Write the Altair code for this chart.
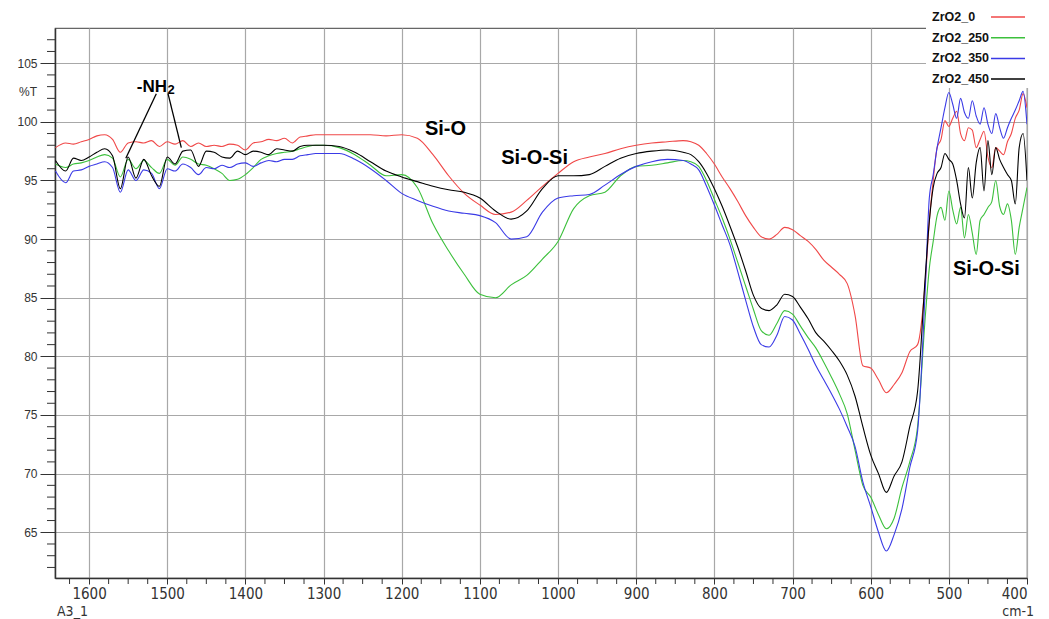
import altair as alt
import pandas as pd

# ---------------- data -----------------------------------------
WAVENUMBER = [
    1643, 1630, 1620, 1610, 1600, 1590, 1580, 1570, 1560, 1550, 1540, 1530, 1520, 1510, 1500, 1490, 1480,
    1470, 1460, 1450, 1440, 1430, 1420, 1410, 1400, 1390, 1380, 1370, 1360, 1350, 1340, 1330, 1320, 1310, 1300,
    1280, 1260, 1240, 1220, 1200, 1180, 1160, 1140, 1120, 1100, 1080, 1060, 1040, 1020, 1000, 980, 960, 940,
    920, 900, 880, 860, 840,
    830, 820, 810, 800, 790, 780, 770, 760, 750, 740, 730, 720, 710, 700, 690, 680, 670, 660, 650, 640, 630,
    620, 610, 600, 590, 580, 570, 560, 550, 540,
    530, 525, 520, 515, 510, 505, 500, 495, 490, 485, 480, 475, 470, 465, 460, 455, 450, 445, 440, 435, 430,
    425, 420, 415, 410, 405, 400,
]

ZRO2_0 = [
    97.8, 98.2, 98.1, 98.3, 98.5, 98.8, 98.9, 98.5, 97.4, 98.2, 98.3, 98.2, 98.4, 97.9, 98.3, 98.1, 98.4,
    97.9, 98.2, 97.9, 98.0, 97.9, 98.1, 98.0, 97.6, 98.2, 98.3, 98.5, 98.4, 98.6, 98.2, 98.7, 98.8, 98.9, 98.9,
    98.9, 98.9, 98.9, 98.8, 98.9, 98.6, 97.2, 95.4, 93.9, 92.9, 92.1, 92.3, 93.3, 94.5, 95.6, 96.6, 97.0, 97.3,
    97.7, 98.0, 98.2, 98.3, 98.4,
    98.3, 98.0, 97.3, 96.4, 95.3, 94.3, 93.2, 92.0, 91.0, 90.2, 90.0, 90.4, 91.0, 90.8, 90.3, 89.8, 89.1, 88.2,
    87.6, 87.0, 86.2, 83.5, 79.2, 79.0, 78.0, 76.9, 77.6, 78.6, 80.4, 81.0,
    86.5, 91.5, 95.0, 97.8, 98.5, 100.1, 99.6, 100.3, 100.9, 99.0, 98.4, 99.5, 99.3, 97.8, 98.5, 99.2, 97.0,
    96.1, 97.8, 97.5, 97.2, 98.3, 99.0, 100.3, 101.0, 102.4, 101.2,
]

ZRO2_250 = [
    96.4, 96.1, 96.4, 96.5, 96.7, 97.0, 97.2, 96.9, 95.3, 96.8, 96.0, 96.7, 96.1, 95.6, 96.8, 96.3, 97.0,
    96.8, 96.4, 96.3, 96.0, 95.6, 95.0, 95.1, 95.5, 96.1, 96.8, 97.1, 97.3, 97.4, 97.5, 97.7, 97.9, 98.0, 98.0,
    97.8, 97.2, 96.3, 95.4, 95.5, 94.4, 91.3, 89.0, 87.0, 85.3, 85.0, 86.1, 86.9, 88.3, 89.8, 92.6, 93.7, 94.0,
    95.4, 96.2, 96.3, 96.5, 96.7,
    96.6, 96.2, 95.0, 93.4, 91.8, 90.0, 88.0, 86.0, 84.0, 82.2, 81.8, 82.8, 83.9, 83.6, 82.6, 81.6, 80.7, 79.5,
    78.2, 76.8, 75.1, 72.0, 69.0, 68.0, 66.5, 65.3, 66.2, 68.8, 71.0, 74.0,
    83.5, 87.5, 89.8, 92.0, 92.7, 91.6, 94.1, 92.5, 91.3, 92.7, 90.1, 92.1, 90.5, 88.7, 91.6, 92.1, 92.7,
    93.2, 95.0, 92.8, 92.1, 93.0, 91.6, 88.7, 91.0, 92.7, 94.4,
]

ZRO2_350 = [
    95.8, 94.8, 95.8, 95.9, 96.2, 96.4, 96.6, 96.1, 94.0, 95.9, 95.0, 95.9, 95.6, 94.3, 96.0, 95.8, 96.4,
    96.1, 95.5, 96.1, 96.0, 96.3, 96.1, 96.4, 96.5, 96.2, 96.5, 96.7, 96.6, 96.8, 96.8, 97.1, 97.2, 97.3, 97.3,
    97.3, 96.8, 96.0, 95.0, 93.9, 93.3, 92.8, 92.4, 92.2, 92.0, 91.4, 90.0, 90.2, 92.3, 93.5, 93.7, 93.8, 94.6,
    95.5, 96.2, 96.6, 96.8, 96.7,
    96.4, 95.9, 94.5, 92.9, 91.2, 89.5, 87.2, 84.8, 82.5, 81.0, 80.8, 81.8, 83.4, 83.1, 81.9, 80.6, 79.2, 78.0,
    76.8, 75.5, 74.0, 72.3, 69.3, 67.2, 65.0, 63.4, 64.8, 67.0, 70.5, 73.6,
    86.0, 93.5, 95.5, 97.8, 99.5, 101.2, 102.5, 101.5, 100.3, 102.0, 100.8, 100.3, 101.8, 100.5, 99.8, 101.2,
    99.8, 99.0, 100.7, 99.5, 98.6, 99.5, 100.3, 101.0, 101.8, 102.6, 99.8,
]

ZRO2_450 = [
    96.7, 95.8, 96.9, 96.7, 97.0, 97.4, 97.7, 97.1, 94.3, 97.0, 95.2, 96.8, 95.4, 94.5, 97.0, 96.4, 97.5,
    97.6, 96.2, 97.5, 97.4, 97.0, 96.9, 97.5, 97.2, 97.5, 97.4, 97.2, 97.7, 97.6, 97.5, 97.9, 98.0, 98.0, 98.0,
    97.9, 97.4, 96.6, 95.8, 95.3, 94.9, 94.5, 94.2, 94.0, 93.5, 92.4, 91.7, 92.4, 94.3, 95.4, 95.4, 95.5, 96.2,
    96.9, 97.3, 97.5, 97.6, 97.4,
    97.2, 96.6, 95.6, 94.3, 92.8, 91.1, 89.3, 87.3, 85.2, 84.1, 83.9, 84.4, 85.3, 85.1, 84.2, 83.2, 82.0, 81.3,
    80.5, 79.6, 78.4, 76.6, 74.0, 71.6, 70.0, 68.4, 69.8, 71.0, 74.0, 77.0,
    87.0, 91.5, 94.4, 95.6, 96.1, 97.3, 96.8, 96.4, 95.0, 93.0, 91.8, 96.1, 93.5, 96.5, 97.8, 94.1, 98.4,
    95.5, 97.8, 96.8, 96.1, 95.5, 95.0, 93.0, 97.8, 99.0, 95.0,
]

SERIES_NAMES = ["ZrO2_0", "ZrO2_250", "ZrO2_350", "ZrO2_450"]
SERIES_COLORS = ["#f04848", "#3cc03c", "#3a3ae6", "#000000"]
SERIES_WIDTHS = [1.1, 1.1, 1.1, 2.7]

X_MAJOR = [1600, 1500, 1400, 1300, 1200, 1100, 1000, 900, 800, 700, 600, 500, 400]
X_MINOR = [1625, 1575, 1550, 1525, 1475, 1450, 1425, 1375, 1350, 1325, 1275, 1250, 1225, 1175, 1150, 1125,
           1075, 1050, 1025, 975, 950, 925, 875, 850, 825, 775, 750, 725, 675, 650, 625, 575, 550, 525,
           475, 450, 425]
Y_MAJOR = [65, 70, 75, 80, 85, 90, 95, 100, 105]
Y_MINOR = [62, 63, 64, 66, 67, 68, 69, 71, 72, 73, 74, 76, 77, 78, 79, 81, 82, 83, 84, 86, 87, 88, 89,
           91, 92, 93, 94, 96, 97, 98, 99, 101, 102, 103, 104, 106, 107]
Y_UNIT_LABEL = "%T"
Y_UNIT_AT = 102.5

# annotations (label, wavenumber, %T)
ANN_LABELS = ["Si-O", "Si-O-Si", "Si-O-Si"]
ANN_WN = [1144, 1030, 452]
ANN_T = [99.35, 96.9, 87.45]

NH_TEXT = ["-NH", "2"]
NH_WN = [1500.3, 1499.7]
NH_T = [103.0, 102.75]

LEAD_WN = [1514, 1499]
LEAD_T = [102.4, 102.4]
LEAD_WN2 = [1553, 1482]
LEAD_T2 = [96.9, 97.8]

for s in (ZRO2_0, ZRO2_250, ZRO2_350, ZRO2_450):
    assert len(s) == len(WAVENUMBER), (len(s), len(WAVENUMBER))

rows = []
for name, vals in zip(SERIES_NAMES, [ZRO2_0, ZRO2_250, ZRO2_350, ZRO2_450]):
    for w, v in zip(WAVENUMBER, vals):
        rows.append({"wn": w, "T": v, "series": name})
df = pd.DataFrame(rows)

W, H = 972, 550
NARROW = "Liberation Sans Narrow, DejaVu Sans Condensed, Arial Narrow, sans-serif"
SANS = "Liberation Sans, Arial, Helvetica, sans-serif"
AXIS_COLOR = "#333333"
GRID_COLOR = "#a8a8a8"

xscale = alt.Scale(domain=[1643.6, 400], nice=False, zero=False)
yscale = alt.Scale(domain=[61.1, 108], nice=False, zero=False)

x_axis = alt.Axis(
    values=X_MAJOR, title=None, format="d", labelOverlap=False, labelFont=NARROW, labelFontSize=15,
    labelColor=AXIS_COLOR, labelPadding=2, tickSize=6, tickColor=AXIS_COLOR, tickWidth=1,
    domainColor=AXIS_COLOR, domainWidth=1.5, grid=True, gridColor=GRID_COLOR, gridWidth=1.2,
)
y_axis = alt.Axis(
    values=Y_MAJOR, title=None, format="d", labelOverlap=False, labelFont=SANS, labelFontSize=12,
    labelColor=AXIS_COLOR, labelPadding=3, tickSize=15, tickColor=AXIS_COLOR, tickWidth=1,
    domainColor=AXIS_COLOR, domainWidth=1.5, grid=True, gridColor=GRID_COLOR, gridWidth=1.2,
)

def X(field):
    return alt.X(field, scale=xscale, title=None)

def Y(field):
    return alt.Y(field, scale=yscale, title=None)

lines = alt.Chart(df).mark_line(clip=True, strokeJoin="round", interpolate="monotone").encode(
    x=alt.X("wn:Q", scale=xscale, axis=x_axis, title=None),
    y=alt.Y("T:Q", scale=yscale, axis=y_axis, title=None),
    color=alt.Color("series:N", scale=alt.Scale(domain=SERIES_NAMES, range=SERIES_COLORS), legend=None),
    strokeWidth=alt.StrokeWidth("series:N", scale=alt.Scale(domain=SERIES_NAMES, range=SERIES_WIDTHS), legend=None),
    order=alt.Order("wn:Q"),
)

# minor ticks
xminor = alt.Chart(pd.DataFrame({"v": X_MINOR})).mark_rule(color=AXIS_COLOR, strokeWidth=1).encode(
    x=X("v:Q"), y=alt.value(H), y2=alt.value(H + 6))
yminor = alt.Chart(pd.DataFrame({"v": Y_MINOR})).mark_rule(color=AXIS_COLOR, strokeWidth=1).encode(
    y=Y("v:Q"), x=alt.value(0), x2=alt.value(-8))
yunit = alt.Chart(pd.DataFrame({"v": [Y_UNIT_AT], "label": [Y_UNIT_LABEL]})).mark_text(
    font=SANS, fontSize=12, color=AXIS_COLOR, align="right", baseline="middle").encode(
    y=Y("v:Q"), x=alt.value(-18), text="label:N")

ann_df = pd.DataFrame({"wn": ANN_WN, "T": ANN_T, "label": ANN_LABELS})
ann = alt.Chart(ann_df).mark_text(font=SANS, fontWeight="bold", fontSize=20, color="#000").encode(
    x=X("wn:Q"), y=Y("T:Q"), text="label:N")
nh1 = alt.Chart(pd.DataFrame({"wn": [NH_WN[0]], "T": [NH_T[0]], "label": [NH_TEXT[0]]})).mark_text(
    font=SANS, fontWeight="bold", fontSize=17, color="#000", align="right").encode(
    x=X("wn:Q"), y=Y("T:Q"), text="label:N")
nh2 = alt.Chart(pd.DataFrame({"wn": [NH_WN[1]], "T": [NH_T[1]], "label": [NH_TEXT[1]]})).mark_text(
    font=SANS, fontWeight="bold", fontSize=13, color="#000", align="left").encode(
    x=X("wn:Q"), y=Y("T:Q"), text="label:N")
leads = alt.Chart(pd.DataFrame({"wn": LEAD_WN, "T": LEAD_T, "wn2": LEAD_WN2, "T2": LEAD_T2})).mark_rule(
    color="#000", strokeWidth=1.3).encode(x=X("wn:Q"), y=Y("T:Q"), x2="wn2:Q", y2="T2:Q")

# corner texts
a31 = alt.Chart(pd.DataFrame({"label": ["A3_1"]})).mark_text(
    font=NARROW, fontSize=14, color=AXIS_COLOR, align="left", baseline="alphabetic").encode(
    x=alt.value(2), y=alt.value(H + 38), text="label:N")
cm1 = alt.Chart(pd.DataFrame({"label": ["cm-1"]})).mark_text(
    font=NARROW, fontSize=14, color=AXIS_COLOR, align="right", baseline="alphabetic").encode(
    x=alt.value(W + 7), y=alt.value(H + 38), text="label:N")

# legend (drawn as a white box with label + line per series, in the top-right corner)
LEG_LEFT, LEG_TOP, LEG_ROW = 877, -11, 20.7
LEG_LINE_X1, LEG_LINE_X2 = 936, 970
legend_layers = [
    alt.Chart(pd.DataFrame({"k": [0]})).mark_rect(color="white").encode(
        x=alt.value(LEG_LEFT - 6), x2=alt.value(W + 22), y=alt.value(-28), y2=alt.value(60))
]
for i, (name, colr) in enumerate(zip(SERIES_NAMES, SERIES_COLORS)):
    yy = LEG_TOP + i * LEG_ROW
    legend_layers.append(
        alt.Chart(pd.DataFrame({"label": [name]})).mark_text(
            font=SANS, fontWeight="bold", fontSize=12.5, color="#111", align="left", baseline="middle").encode(
            x=alt.value(LEG_LEFT), y=alt.value(yy), text="label:N"))
    legend_layers.append(
        alt.Chart(pd.DataFrame({"label": [name]})).mark_rule(color=colr, strokeWidth=1.5).encode(
            x=alt.value(LEG_LINE_X1), x2=alt.value(LEG_LINE_X2), y=alt.value(yy)))

chart = alt.layer(lines, xminor, yminor, yunit, leads, ann, nh1, nh2, a31, cm1, *legend_layers).properties(
    width=W, height=H,
    autosize=alt.AutoSizeParams(type="none"),
    padding={"left": 55, "top": 28, "right": 22, "bottom": 41},
    background="white",
).configure_view(stroke="#666", strokeWidth=1.2)

chart.save("out.html", embed_options={"renderer": "svg", "actions": False})
